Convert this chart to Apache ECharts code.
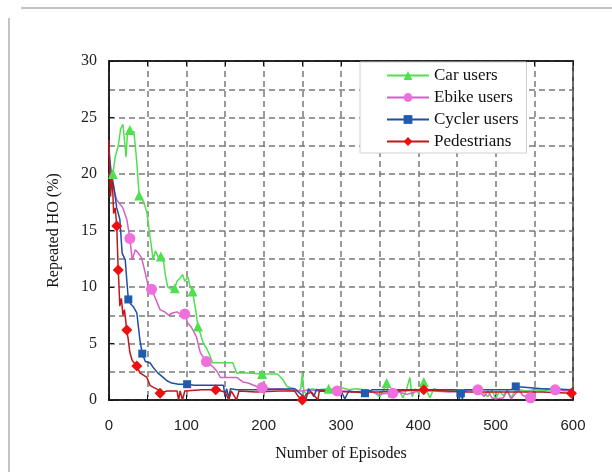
<!DOCTYPE html>
<html>
<head>
<meta charset="utf-8">
<script src="https://cdn.jsdelivr.net/npm/echarts@6/dist/echarts.min.js"></script>
<style>
  html, body { margin: 0; padding: 0; background: #fff; }
  #main { width: 612px; height: 472px; }
</style>
</head>
<body>
<div id="main"></div>
<script>
// [episode, repeated HO %]
var carUsers = [[0,20.0],[5,20.0],[8,21.5],[12,22.5],[15,24.0],[18,24.4],[20,23.0],[22,21.5],[24,23.8],[27,23.9],[30,23.5],[32,23.8],[34,22.5],[36,21.0],[39,18.1],[42,17.8],[45,17.5],[49,16.6],[52,15.0],[55,13.5],[57,12.4],[60,13.2],[64,12.6],[67,12.7],[70,12.5],[73,11.0],[76,10.0],[80,9.8],[85,9.9],[88,10.5],[92,10.8],[95,11.1],[98,10.5],[102,10.9],[105,10.0],[108,9.6],[112,8.0],[115,6.5],[118,5.9],[122,5.0],[126,4.6],[130,4.0],[134,3.3],[150,3.3],[160,3.3],[165,2.4],[180,2.4],[198,2.3],[210,2.3],[218,2.3],[225,1.8],[230,1.2],[240,1.0],[245,0.8],[248,1.0],[250,2.4],[252,0.8],[255,0.5],[262,1.0],[270,0.9],[284,1.0],[290,0.9],[300,1.1],[310,0.9],[320,1.0],[330,0.9],[340,0.8],[350,0.3],[355,0.9],[359,1.5],[362,0.2],[366,1.0],[370,0.4],[375,0.9],[380,0.2],[385,1.0],[389,2.0],[392,0.3],[396,1.0],[400,0.6],[404,1.1],[407,1.6],[410,0.9],[415,0.2],[420,1.0],[430,0.8],[440,0.9],[450,0.8],[455,0.9],[460,0.8],[470,0.9],[480,0.8],[490,0.3],[495,0.9],[500,0.1],[505,0.8],[510,0.4],[515,0.9],[520,0.2],[525,0.8],[530,0.9],[540,0.8],[550,0.9],[560,0.8],[570,0.9],[580,1.0],[590,0.9],[600,0.8]];
var ebikeUsers = [[0,20.0],[5,19.0],[10,17.7],[18,17.0],[23,16.0],[27,14.3],[30,12.4],[34,13.3],[38,13.0],[42,12.6],[46,11.5],[51,10.0],[55,9.8],[60,9.0],[66,8.0],[72,7.8],[77,7.5],[82,7.7],[88,7.8],[94,7.5],[98,7.6],[102,6.8],[106,6.5],[110,6.0],[113,5.6],[118,4.2],[122,3.8],[126,3.4],[135,2.9],[140,2.5],[144,2.0],[155,2.0],[165,2.0],[173,1.6],[180,1.5],[191,1.2],[198,1.1],[210,1.0],[220,1.0],[230,0.9],[240,0.8],[250,0.8],[260,0.9],[270,0.8],[280,0.8],[295,0.8],[305,0.8],[315,0.7],[330,0.8],[340,0.7],[350,0.5],[360,0.6],[367,0.6],[375,0.7],[385,0.5],[400,0.8],[420,0.8],[440,0.7],[460,0.8],[470,0.9],[477,0.9],[485,0.3],[490,0.8],[495,0.2],[500,0.1],[510,0.2],[515,0.8],[520,0.1],[530,0.9],[535,0.4],[545,0.2],[550,1.0],[560,1.0],[577,0.9],[590,0.8],[600,0.9]];
var cyclerUsers = [[0,22.0],[3,20.0],[6,19.0],[10,17.0],[14,16.0],[17,13.0],[21,12.4],[23,10.6],[25,8.9],[28,8.5],[31,8.3],[36,7.7],[38,6.5],[40,5.3],[43,4.1],[47,3.4],[53,3.3],[58,2.8],[63,2.4],[70,2.0],[75,1.7],[81,1.5],[90,1.4],[101,1.4],[110,1.3],[148,1.3],[150,0.3],[152,1.0],[155,0.2],[157,1.0],[165,0.9],[200,0.9],[240,1.0],[255,0.1],[258,1.0],[265,0.3],[268,0.9],[300,0.8],[305,0.1],[310,0.8],[331,0.6],[340,0.9],[450,0.9],[453,0.1],[455,0.6],[457,0.1],[460,0.9],[520,0.9],[526,1.2],[560,1.0],[600,0.9]];
var pedestrians = [[0,23.0],[2,18.0],[4,20.0],[6,16.5],[8,17.0],[10,15.4],[11,13.3],[12,11.5],[14,8.3],[16,9.0],[18,7.5],[20,8.0],[23,6.2],[25,5.3],[27,4.2],[30,3.5],[36,3.0],[40,2.4],[49,2.0],[53,1.3],[58,1.1],[64,0.9],[66,0.6],[75,0.8],[88,0.8],[90,0.0],[92,0.8],[95,0.0],[98,0.8],[120,0.9],[138,0.9],[150,0.7],[155,0.0],[158,0.8],[165,0.0],[168,0.8],[190,0.7],[220,0.8],[240,0.8],[245,0.3],[250,0.0],[255,0.5],[262,0.7],[270,0.0],[272,0.8],[314,0.7],[350,0.7],[407,0.9],[460,0.7],[560,0.7],[598,0.6]];

// episodes where a marker is drawn
var carMarks = [5, 27, 39, 67, 85, 108, 115, 198, 284, 359, 407];
var ebikeMarks = [27, 55, 98, 126, 198, 295, 367, 477, 545, 577];
var cyclerMarks = [25, 43, 101, 331, 455, 526];
var pedMarks = [10, 12, 23, 36, 66, 138, 250, 407, 598];

var serif = '"Liberation Serif", "DejaVu Serif", serif';

function withMarks (pts, marks) {
  return pts.map(function (p) {
    var item = { value: p };
    if (marks.indexOf(p[0]) < 0) item.symbol = 'none';
    return item;
  });
}

function makeSeries (name, pts, marks, color, markColor, symbol, size) {
  return {
    name: name,
    type: 'line',
    data: withMarks(pts, marks),
    symbol: symbol,
    symbolSize: size,
    showSymbol: true,
    animation: false,
    lineStyle: { color: color, width: 1.5 },
    itemStyle: { color: markColor, borderWidth: 0 },
    emphasis: { disabled: true }
  };
}

var dashed = { color: '#7a7a7a', width: 1.5, type: [6, 4] };

var myChart = echarts.init(document.getElementById('main'));
var option = {
  backgroundColor: '#fff',
  animation: false,
  grid: { left: 109, right: 39, top: 61, bottom: 72, show: true, borderColor: '#111', borderWidth: 1.5 },
  graphic: [
    { type: 'line', shape: { x1: 9, y1: 18, x2: 9, y2: 472 }, style: { stroke: '#c4c4c4', lineWidth: 2 } },
    { type: 'line', shape: { x1: 21, y1: 8, x2: 612, y2: 8 }, style: { stroke: '#c4c4c4', lineWidth: 2 } }
  ],
  legend: {
    orient: 'vertical',
    left: 360,
    top: 62,
    padding: [5, 8, 3, 26],
    itemGap: 5,
    itemWidth: 42,
    itemHeight: 11,
    borderColor: '#d0d0d0',
    borderWidth: 1,
    backgroundColor: '#fff',
    textStyle: { fontFamily: serif, fontSize: 17, color: '#111' },
    data: ['Car users', 'Ebike users', 'Cycler users', 'Pedestrians']
  },
  xAxis: [{
    type: 'value',
    min: 0,
    max: 600,
    interval: 100,
    name: 'Number of Episodes',
    nameLocation: 'middle',
    nameGap: 46,
    nameTextStyle: { fontFamily: serif, fontSize: 16, color: '#111' },
    axisLine: { show: true, lineStyle: { color: '#111', width: 1.5 } },
    axisTick: { show: true, inside: true, length: 5, lineStyle: { color: '#111' } },
    minorTick: { show: true, splitNumber: 2, length: 5, lineStyle: { color: '#111' } },
    axisLabel: { fontFamily: '"Liberation Sans", Arial, sans-serif', fontSize: 15, color: '#222', margin: 18 },
    splitLine: { show: true, lineStyle: dashed },
    minorSplitLine: { show: true, lineStyle: dashed }
  }, {
    type: 'value',
    position: 'top',
    min: 0,
    max: 600,
    interval: 50,
    axisLine: { show: true, lineStyle: { color: '#111', width: 1.5 } },
    axisTick: { show: true, inside: true, length: 5, lineStyle: { color: '#111' } },
    axisLabel: { show: false },
    splitLine: { show: false }
  }],
  yAxis: {
    type: 'value',
    min: 0,
    max: 30,
    interval: 5,
    name: 'Repeated HO (%)',
    nameLocation: 'middle',
    nameGap: 47,
    nameTextStyle: { fontFamily: serif, fontSize: 16, color: '#111' },
    axisLine: { show: true, lineStyle: { color: '#111', width: 1.5 } },
    axisTick: { show: true, inside: true, length: 5, lineStyle: { color: '#111' } },
    axisLabel: { fontFamily: serif, fontSize: 16, color: '#222', margin: 12 },
    splitLine: { show: true, lineStyle: dashed },
    minorSplitLine: { show: true, lineStyle: dashed },
    minorTick: { show: false, splitNumber: 2 }
  },
  series: [
    makeSeries('Car users', carUsers, carMarks, '#4fe04f', '#4fe04f', 'triangle', 10),
    makeSeries('Ebike users', ebikeUsers, ebikeMarks, '#d65fc8', '#ee6fdd', 'circle', 11),
    makeSeries('Cycler users', cyclerUsers, cyclerMarks, '#1f4fa0', '#1f5cb0', 'rect', 8),
    makeSeries('Pedestrians', pedestrians, pedMarks, '#c01818', '#ee1010', 'diamond', 11)
  ]
};
myChart.setOption(option);
window.addEventListener('resize', myChart.resize);
</script>
</body>
</html>
